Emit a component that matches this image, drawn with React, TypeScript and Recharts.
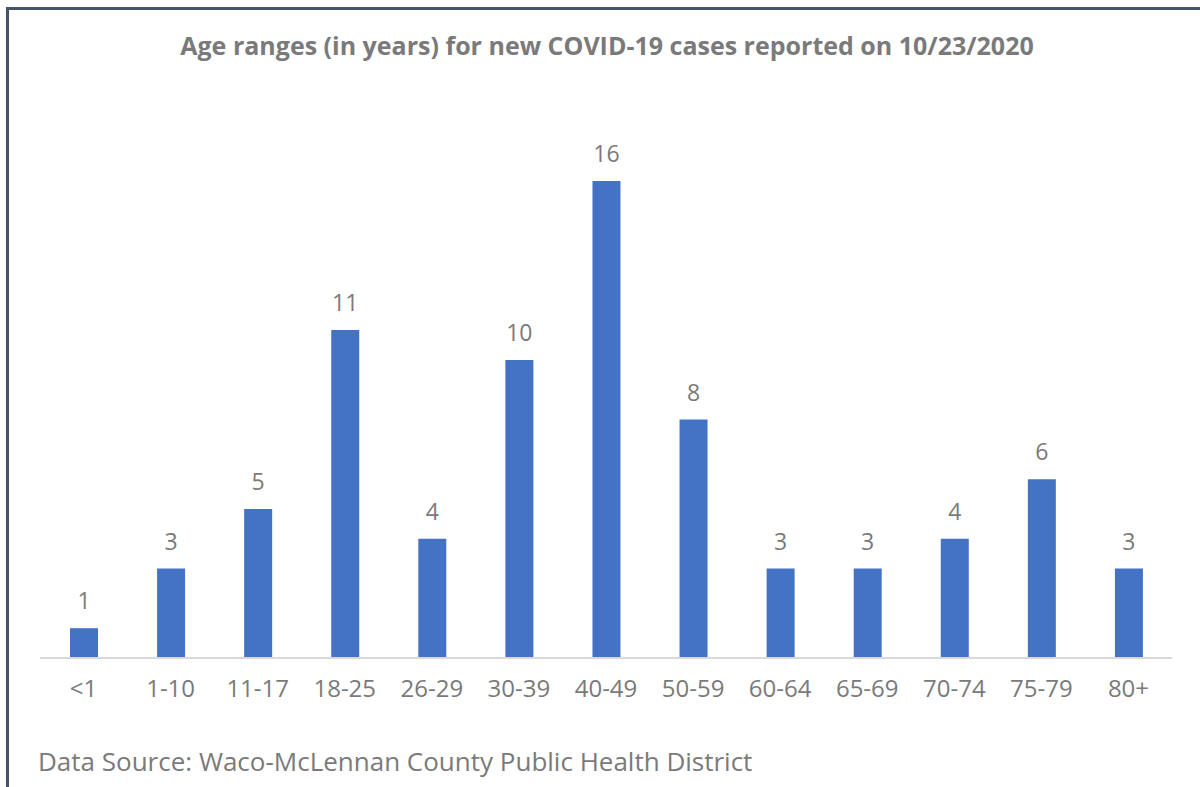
import React from 'react'
import { BarChart, Bar, XAxis, YAxis, LabelList } from 'recharts'

const ageRanges = ['<1', '1-10', '11-17', '18-25', '26-29', '30-39', '40-49', '50-59', '60-64', '65-69', '70-74', '75-79', '80+']
const newCases = [1, 3, 5, 11, 4, 10, 16, 8, 3, 3, 4, 6, 3]

const data = ageRanges.map((age, i) => ({ age, cases: newCases[i] }))

const font = '"Open Sans", Lato, sans-serif'
const textGray = '#7a7a7a'

export default function App() {
    return (
        <div style={{ position: 'absolute', left: 0, top: 0, width: 1200, height: 787, background: '#fff', overflow: 'hidden', fontFamily: font }}>
            <div style={{ position: 'absolute', left: 6, top: 7, width: 1210, height: 800, borderTop: '3px solid #44546A', borderLeft: '3px solid #44546A' }} />
            <div style={{ position: 'absolute', left: 0, width: 1214, top: 28, textAlign: 'center', fontSize: 25, fontWeight: 700, color: textGray, whiteSpace: 'nowrap' }}>
                Age ranges (in years) for new COVID-19 cases reported on 10/23/2020
            </div>
            <div style={{ position: 'absolute', left: 38, top: 743, fontSize: 26, color: textGray, whiteSpace: 'nowrap' }}>
                Data Source: Waco-McLennan County Public Health District
            </div>
            <div style={{ position: 'absolute', left: 0, top: 0 }}>
                <BarChart width={1200} height={787} data={data} margin={{ top: 181, right: 28, bottom: 99, left: 40 }}>
                    <XAxis
                        dataKey="age"
                        axisLine={{ stroke: '#D9D9D9', strokeWidth: 2 }}
                        tickLine={false}
                        tickMargin={16}
                        tick={{ fill: textGray, fontSize: 24, fontFamily: font }}
                        interval={0}
                    />
                    <YAxis hide domain={[0, 16]} />
                    <Bar dataKey="cases" fill="#4472C4" barSize={28} isAnimationActive={false}>
                        <LabelList dataKey="cases" position="top" offset={19} fill={textGray} fontSize={23} fontFamily={font} />
                    </Bar>
                </BarChart>
            </div>
        </div>
    )
}
